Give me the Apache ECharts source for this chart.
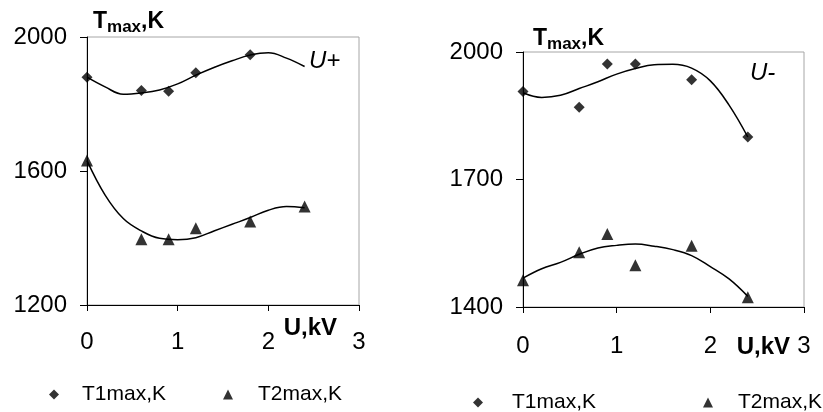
<!DOCTYPE html>
<html>
<head>
<meta charset="utf-8">
<style>
  html, body { margin: 0; padding: 0; background: #fff; }
  #main { width: 823px; height: 412px; }
</style>
</head>
<body>
<div id="main"></div>
<script src="https://cdn.jsdelivr.net/npm/echarts@6/dist/echarts.min.js"></script>
<script>
// measured points, U in kV
var uPlus = [0, 0.6, 0.9, 1.2, 1.8];
var uAll = [0, 0.6, 0.9, 1.2, 1.8, 2.4];
var t1Plus = [1880, 1840, 1838, 1893, 1947];
var t2Plus = [1631, 1396, 1396, 1429, 1449, 1494];
var t1Minus = [1907, 1870, 1972, 1972, 1935, 1800];
var t2Minus = [1463, 1529, 1572, 1498, 1544, 1423];

// trend curves
var uFit = [0, 0.2, 0.4, 0.6, 0.8, 1.0, 1.2, 1.4, 1.6, 1.8, 2.0, 2.2, 2.4];
var t1PlusFit = [1880, 1851, 1829, 1833, 1842, 1860, 1886, 1909, 1929, 1946, 1953, 1937, 1912];
var t2PlusFit = [1631, 1528, 1458, 1421, 1399, 1395, 1401, 1421, 1441, 1461, 1483, 1494, 1490];
var t1MinusFit = [1904, 1893, 1898, 1914, 1930, 1948, 1961, 1970, 1971, 1962, 1932, 1875, 1800];
var t2MinusFit = [1468, 1490, 1505, 1524, 1539, 1545, 1548, 1543, 1535, 1521, 1495, 1466, 1425];

var xTicks = [0, 1, 2, 3];
var yTicksPlus = [1200, 1600, 2000];
var yTicksMinus = [1400, 1700, 2000];

var FONT = 'Liberation Sans, Arial, sans-serif';

function pairs(xs, ys) {
  return ys.map(function (v, i) { return [xs[i], v]; });
}

function xAx(grid, gap, lh, margin) {
  return {
    type: 'value', gridIndex: grid, min: xTicks[0], max: xTicks[xTicks.length - 1], interval: 1,
    name: 'U,kV', nameLocation: 'end', nameGap: gap,
    nameTextStyle: { fontFamily: FONT, fontSize: 24, fontWeight: 'bold', color: '#000',
      align: 'right', verticalAlign: 'top', lineHeight: lh },
    axisLine: { onZero: false, lineStyle: { color: '#000', width: 1 } },
    axisTick: { length: 6, lineStyle: { color: '#000' } },
    axisLabel: { fontFamily: FONT, fontSize: 24, color: '#000', margin: margin },
    splitLine: { show: false }
  };
}

function yAx(grid, ticks, padLeft, gap) {
  return {
    type: 'value', gridIndex: grid, min: ticks[0], max: ticks[ticks.length - 1],
    interval: ticks[1] - ticks[0],
    name: '{t|T}{s|max}{t|,K}', nameLocation: 'end', nameGap: gap,
    nameTextStyle: {
      align: 'left', verticalAlign: 'middle', padding: [0, 0, 0, padLeft],
      rich: {
        t: { fontFamily: FONT, fontSize: 23, fontWeight: 'bold', color: '#000', lineHeight: 26, verticalAlign: 'top' },
        s: { fontFamily: FONT, fontSize: 17, fontWeight: 'bold', color: '#000', lineHeight: 26, verticalAlign: 'bottom', padding: [8, 0, 0, 0] }
      }
    },
    axisLine: { show: true, lineStyle: { color: '#000', width: 1 } },
    axisTick: { show: true, length: 7, lineStyle: { color: '#000' } },
    axisLabel: { fontFamily: FONT, fontSize: 24, color: '#000', margin: 20,
      formatter: function (v) { return String(v); } },
    splitLine: { show: false }
  };
}

function marks(name, sym, xi, data) {
  return {
    name: name, type: 'scatter', xAxisIndex: xi, yAxisIndex: xi,
    symbol: sym, symbolSize: sym === 'diamond' ? 11 : 12,
    itemStyle: { color: '#000' }, data: data, z: 3
  };
}

function fit(xi, data) {
  return {
    type: 'line', xAxisIndex: xi, yAxisIndex: xi, data: data,
    smooth: 0.4, showSymbol: false, symbol: 'none',
    lineStyle: { color: '#000', width: 1.5 }, z: 2
  };
}

function leg(name, icon, left, top, pad) {
  return {
    data: [{ name: name, icon: icon }], left: left, top: top,
    itemWidth: 10, itemHeight: 10, selectedMode: false,
    textStyle: { fontFamily: FONT, fontSize: 21, color: '#000', padding: [0, 0, 0, pad] }
  };
}

var chart = echarts.init(document.getElementById('main'));
chart.setOption({
  animation: false,
  backgroundColor: '#fff',
  grid: [
    { left: 87, top: 37, width: 272, height: 268, show: true, borderColor: '#a6a6a6', borderWidth: 1 },
    { left: 523, top: 52, width: 281, height: 255, show: true, borderColor: '#a6a6a6', borderWidth: 1 }
  ],
  xAxis: [xAx(0, -22, 46, 25), xAx(1, -14, 80, 27)],
  yAxis: [yAx(0, yTicksPlus, 6, 14), yAx(1, yTicksMinus, 10, 12)],
  legend: [
    leg('T1max,K', 'diamond', 44, 379, 18),
    leg('T2max,K', 'triangle', 218, 379, 20),
    leg('T1max,K', 'diamond', 468, 387, 24),
    leg('T2max,K', 'triangle', 698, 387, 20)
  ],
  graphic: [
    { type: 'text', left: 309, top: 49, style: { text: 'U+', font: 'italic 24px ' + FONT, fill: '#000' } },
    { type: 'text', left: 750, top: 61, style: { text: 'U-', font: 'italic 24px ' + FONT, fill: '#000' } }
  ],
  series: [
    fit(0, pairs(uFit, t1PlusFit)),
    fit(0, pairs(uFit, t2PlusFit)),
    marks('T1max,K', 'diamond', 0, pairs(uPlus, t1Plus)),
    marks('T2max,K', 'triangle', 0, pairs(uAll, t2Plus)),
    fit(1, pairs(uFit, t1MinusFit)),
    fit(1, pairs(uFit, t2MinusFit)),
    marks('T1max,K', 'diamond', 1, pairs(uAll, t1Minus)),
    marks('T2max,K', 'triangle', 1, pairs(uAll, t2Minus))
  ]
});
</script>
</body>
</html>
